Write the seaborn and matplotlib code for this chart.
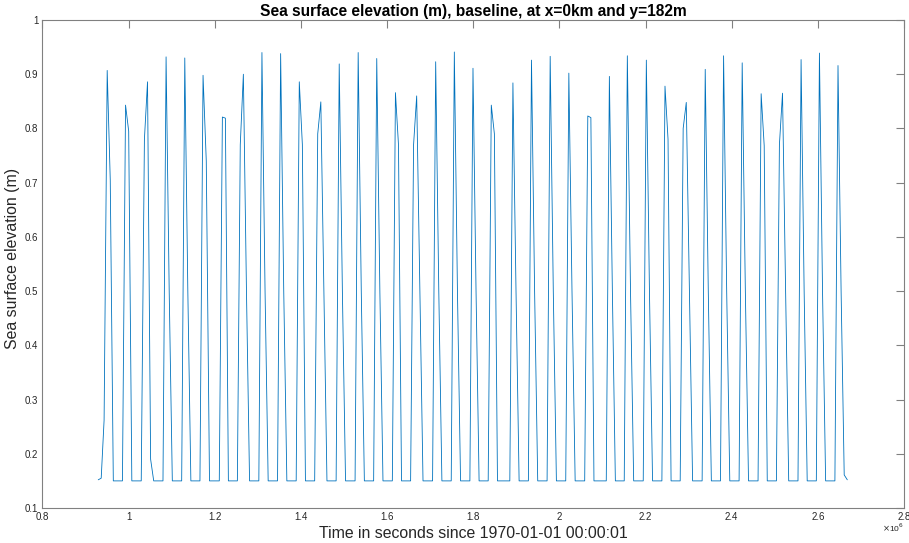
import numpy as np
import pandas as pd
import matplotlib
matplotlib.use("Agg")
import matplotlib.pyplot as plt
import seaborn as sns

# ---- data (time in units of 1e6 s) ----
peak_t = [0.9504, 0.9930, 1.0440, 1.0871, 1.1305, 1.1729, 1.2178, 1.2665, 1.3096, 1.3530, 1.3963, 1.4463, 1.4890,
          1.5330, 1.5761, 1.6195, 1.6688, 1.7129, 1.7562, 1.7995, 1.8420, 1.8922, 1.9353, 1.9787, 2.0220, 2.0660,
          2.1161, 2.1578, 2.2019, 2.2452, 2.2946, 2.3386, 2.3812, 2.4244, 2.4684, 2.5180, 2.5611, 2.6037, 2.6468]
peak_y = [0.907, 0.843, 0.886, 0.932, 0.930, 0.898, 0.821, 0.900, 0.940, 0.938, 0.886, 0.849, 0.919,
          0.940, 0.929, 0.866, 0.860, 0.923, 0.941, 0.911, 0.843, 0.884, 0.926, 0.933, 0.902, 0.823,
          0.896, 0.934, 0.926, 0.878, 0.848, 0.909, 0.934, 0.921, 0.864, 0.865, 0.927, 0.939, 0.916]
# sample just before each peak (rising edge)
pre_y = [0.262, 0.150, 0.780, 0.150, 0.150, 0.150, 0.150, 0.770, 0.150, 0.150, 0.150, 0.790, 0.150,
         0.150, 0.150, 0.150, 0.770, 0.150, 0.150, 0.150, 0.150, 0.150, 0.150, 0.150, 0.150, 0.150,
         0.150, 0.150, 0.150, 0.150, 0.800, 0.150, 0.150, 0.150, 0.150, 0.770, 0.150, 0.150, 0.150]
# sample just after each peak (falling edge)
post_y = [0.705, 0.795, 0.190, 0.500, 0.500, 0.740, 0.819, 0.500, 0.500, 0.500, 0.770, 0.500, 0.500,
          0.500, 0.500, 0.770, 0.500, 0.500, 0.500, 0.500, 0.790, 0.500, 0.500, 0.500, 0.500, 0.820,
          0.500, 0.500, 0.500, 0.780, 0.500, 0.500, 0.500, 0.500, 0.768, 0.500, 0.500, 0.500, 0.500]
trough_y = 0.150
lead_t = [0.9296, 0.9365]
lead_y = [0.152, 0.155]
tail_y = [0.161, 0.152]
sample_dt = 0.0072  # 2-hourly samples, in 1e6 s

# ---- assemble the polyline from the read values ----
ts, ys = list(lead_t), list(lead_y)
for i in range(len(peak_t)):
    ts.append(peak_t[i] - sample_dt); ys.append(pre_y[i])
    ts.append(peak_t[i]); ys.append(peak_y[i])
    if i + 1 < len(peak_t):
        gap = peak_t[i + 1] - peak_t[i]
        n = int(round(gap / sample_dt))
        step = gap / n
        ts.append(peak_t[i] + step); ys.append(post_y[i])
        for k in range(2, n - 1):
            ts.append(peak_t[i] + k * step); ys.append(trough_y)
    else:
        ts.append(peak_t[i] + sample_dt); ys.append(post_y[i])
        for k, v in enumerate(tail_y):
            ts.append(peak_t[i] + (k + 2) * sample_dt); ys.append(v)

df = pd.DataFrame({"t": np.array(ts) * 1e6, "eta": ys})

sns.set_theme(style="white")
plt.rcParams['font.family'] = ['Liberation Sans', 'DejaVu Sans']

fig = plt.figure(figsize=(9.09, 5.43), dpi=100)
ax = fig.add_axes([42.4 / 909, 1 - 508 / 543, (904 - 42.4) / 909, (508 - 20) / 543])

sns.lineplot(data=df, x="t", y="eta", ax=ax, sort=False, estimator=None,
             color="#0072BD", linewidth=0.6)

ax.set_xlim(0.8e6, 2.8e6)
ax.set_ylim(0.1, 1.0)
xt = [0.8, 1.0, 1.2, 1.4, 1.6, 1.8, 2.0, 2.2, 2.4, 2.6, 2.8]
xl = ["0.8", "1", "1.2", "1.4", "1.6", "1.8", "2", "2.2", "2.4", "2.6", "2.8"]
ax.set_xticks([v * 1e6 for v in xt])
ax.set_xticklabels(xl)
yt = [0.1, 0.2, 0.3, 0.4, 0.5, 0.6, 0.7, 0.8, 0.9, 1.0]
ax.set_yticks(yt)
ax.set_yticklabels(["0.1", "0.2", "0.3", "0.4", "0.5", "0.6", "0.7", "0.8", "0.9", "1"])

axcol = "#808080"
for s in ax.spines.values():
    s.set_visible(True)
    s.set_color(axcol)
    s.set_linewidth(0.8)
ax.tick_params(axis="both", direction="in", length=5.5, width=0.8, color=axcol,
               labelsize=7, labelcolor="#262626", top=True, right=True, pad=3)

ax.set_xlabel("Time in seconds since 1970-01-01 00:00:01", fontsize=11.4, color="#262626", labelpad=3)
ax.set_ylabel("Sea surface elevation (m)", fontsize=11.4, color="#262626", labelpad=7)
ax.yaxis.set_label_coords(-22 / (904 - 42.4), (508 - 258) / (508 - 20))
ax.set_title("Sea surface elevation (m), baseline, at x=0km and y=182m", fontsize=11.2,
             fontweight="bold", color="#000000", pad=3)
fig.text(882 / 909, 1 - 528 / 543, r"$\times$10$^6$", fontsize=6, color="#262626",
         ha="left", va="center")

fig.savefig("out.png", dpi=100)
